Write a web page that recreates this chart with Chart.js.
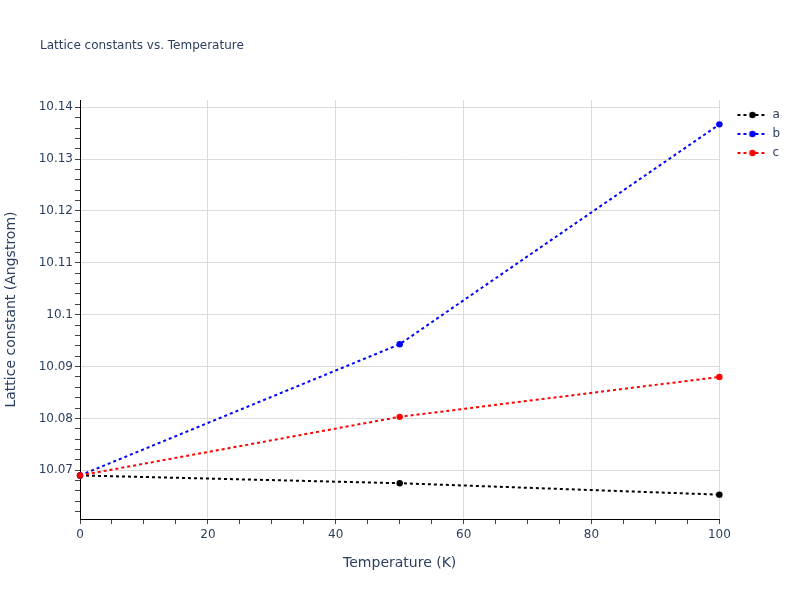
<!DOCTYPE html>
<html>
<head>
<meta charset="utf-8">
<script src="https://cdn.jsdelivr.net/npm/chart.js@4.4.0/dist/chart.umd.min.js"></script>
<style>
  html, body { margin: 0; padding: 0; background: #ffffff; }
  #wrap { width: 800px; height: 600px; }
</style>
</head>
<body>
<div id="wrap"><canvas id="c" width="800" height="600"></canvas></div>
<script>
// ---- data ----
const temperatures = [0, 50, 100];
const latticeA = [10.0690, 10.0675, 10.0653];
const latticeB = [10.0690, 10.0943, 10.1367];
const latticeC = [10.0690, 10.0803, 10.0880];
const seriesNames = ['a', 'b', 'c'];
const seriesColors = ['#000000', '#0000ff', '#ff0000'];

// ---- axes ----
const xRange = [0, 100];
const xMajorTicks = [0, 20, 40, 60, 80, 100];
const xMinorStep = 5;
const yRange = [10.0606, 10.1414];
const yMajorTicks = [10.07, 10.08, 10.09, 10.1, 10.11, 10.12, 10.13, 10.14];
const yMinorStep = 0.002;

const titleText = 'Lattice constants vs. Temperature';
const xTitle = 'Temperature (K)';
const yTitle = 'Lattice constant (Angstrom)';

const textColor = '#2a3f5f';
const gridColor = '#dcdcdc';
const tickMarkColor = '#444444';
const FONT = "'DejaVu Sans', Verdana, sans-serif";

Chart.defaults.font.family = FONT;
Chart.defaults.color = textColor;

function stepTicks(range, step) {
  const out = [];
  const k0 = Math.ceil(range[0] / step - 1e-9);
  const k1 = Math.floor(range[1] / step + 1e-9);
  for (let k = k0; k <= k1; k++) out.push({ value: Number((k * step).toFixed(6)) });
  return out;
}
const isMajor = (list, v) => list.some(t => Math.abs(t - v) < 1e-9);

function makeLegendIcon(color) {
  const cv = document.createElement('canvas');
  cv.width = 60; cv.height = 10;
  const g = cv.getContext('2d');
  g.strokeStyle = color;
  g.lineWidth = 2;
  g.setLineDash([3, 3]);
  g.beginPath();
  g.moveTo(21, 5); g.lineTo(50, 5);
  g.stroke();
  g.setLineDash([]);
  g.fillStyle = color;
  g.beginPath();
  g.arc(36, 5, 3.2, 0, Math.PI * 2);
  g.fill();
  return cv;
}

const seriesValues = [latticeA, latticeB, latticeC];
const datasets = seriesNames.map((name, i) => ({
  label: name,
  data: temperatures.map((t, j) => ({ x: t, y: seriesValues[i][j] })),
  borderColor: seriesColors[i],
  backgroundColor: seriesColors[i],
  pointBackgroundColor: seriesColors[i],
  pointBorderWidth: 0,
  pointRadius: 3.2,
  pointHoverRadius: 3.2,
  borderWidth: 2,
  borderDash: [3, 3],
  tension: 0,
  fill: false,
  clip: false,
  order: seriesNames.length - i
}));

const layoutTweaks = {
  id: 'layoutTweaks',
  afterLayout(chart) {
    if (chart.titleBlock) chart.titleBlock.left = 40;
    if (chart.legend) chart.legend.top += 2;
  }
};

new Chart(document.getElementById('c'), {
  type: 'line',
  data: { datasets },
  plugins: [layoutTweaks],
  options: {
    responsive: false,
    animation: false,
    devicePixelRatio: 1,
    layout: { padding: { left: 0, right: 10, top: 0, bottom: 0 } },
    plugins: {
      title: {
        display: true,
        text: titleText,
        align: 'start',
        color: textColor,
        font: { size: 12, weight: 'normal', family: FONT },
        padding: { top: 39, bottom: 46.6 }
      },
      legend: {
        display: true,
        position: 'right',
        align: 'start',
        fullSize: false,
        labels: {
          usePointStyle: true,
          pointStyleWidth: 40,
          boxHeight: 12,
          padding: 7,
          color: textColor,
          font: { size: 12, family: FONT },
          generateLabels(chart) {
            return chart.data.datasets.map((ds, i) => ({
              text: ds.label,
              pointStyle: makeLegendIcon(ds.borderColor),
              fillStyle: ds.borderColor,
              strokeStyle: ds.borderColor,
              lineWidth: 0,
              fontColor: textColor,
              hidden: !chart.isDatasetVisible(i),
              datasetIndex: i
            }));
          }
        }
      },
      tooltip: { enabled: false }
    },
    scales: {
      x: {
        type: 'linear',
        min: xRange[0],
        max: xRange[1],
        afterBuildTicks: s => { s.ticks = stepTicks(xRange, xMinorStep); },
        afterFit: s => { s.height = 81; },
        ticks: {
          autoSkip: false,
          maxRotation: 0,
          padding: 4,
          color: textColor,
          font: { size: 12, family: FONT },
          callback: v => isMajor(xMajorTicks, v) ? String(v) : ''
        },
        grid: {
          color: ctx => (ctx.tick && isMajor(xMajorTicks, ctx.tick.value)) ? gridColor : 'rgba(0,0,0,0)',
          tickColor: tickMarkColor,
          tickLength: 5,
          lineWidth: 1
        },
        border: { display: true, color: '#000000', width: 1 },
        title: {
          display: true,
          text: xTitle,
          color: textColor,
          font: { size: 14, family: FONT },
          padding: { top: 0, bottom: 28.6 }
        }
      },
      y: {
        type: 'linear',
        min: yRange[0],
        max: yRange[1],
        afterBuildTicks: s => { s.ticks = stepTicks(yRange, yMinorStep); },
        afterFit: s => { s.width = 80; },
        ticks: {
          autoSkip: false,
          padding: 2,
          color: textColor,
          font: { size: 12, family: FONT },
          callback: v => isMajor(yMajorTicks, v) ? String(Number(v.toFixed(2))) : ''
        },
        grid: {
          color: ctx => (ctx.tick && isMajor(yMajorTicks, ctx.tick.value)) ? gridColor : 'rgba(0,0,0,0)',
          tickColor: tickMarkColor,
          tickLength: 5,
          lineWidth: 1
        },
        border: { display: true, color: '#000000', width: 1 },
        title: {
          display: true,
          text: yTitle,
          color: textColor,
          font: { size: 14, family: FONT },
          padding: { top: 2.6, bottom: 0 }
        }
      }
    }
  }
});
</script>
</body>
</html>
